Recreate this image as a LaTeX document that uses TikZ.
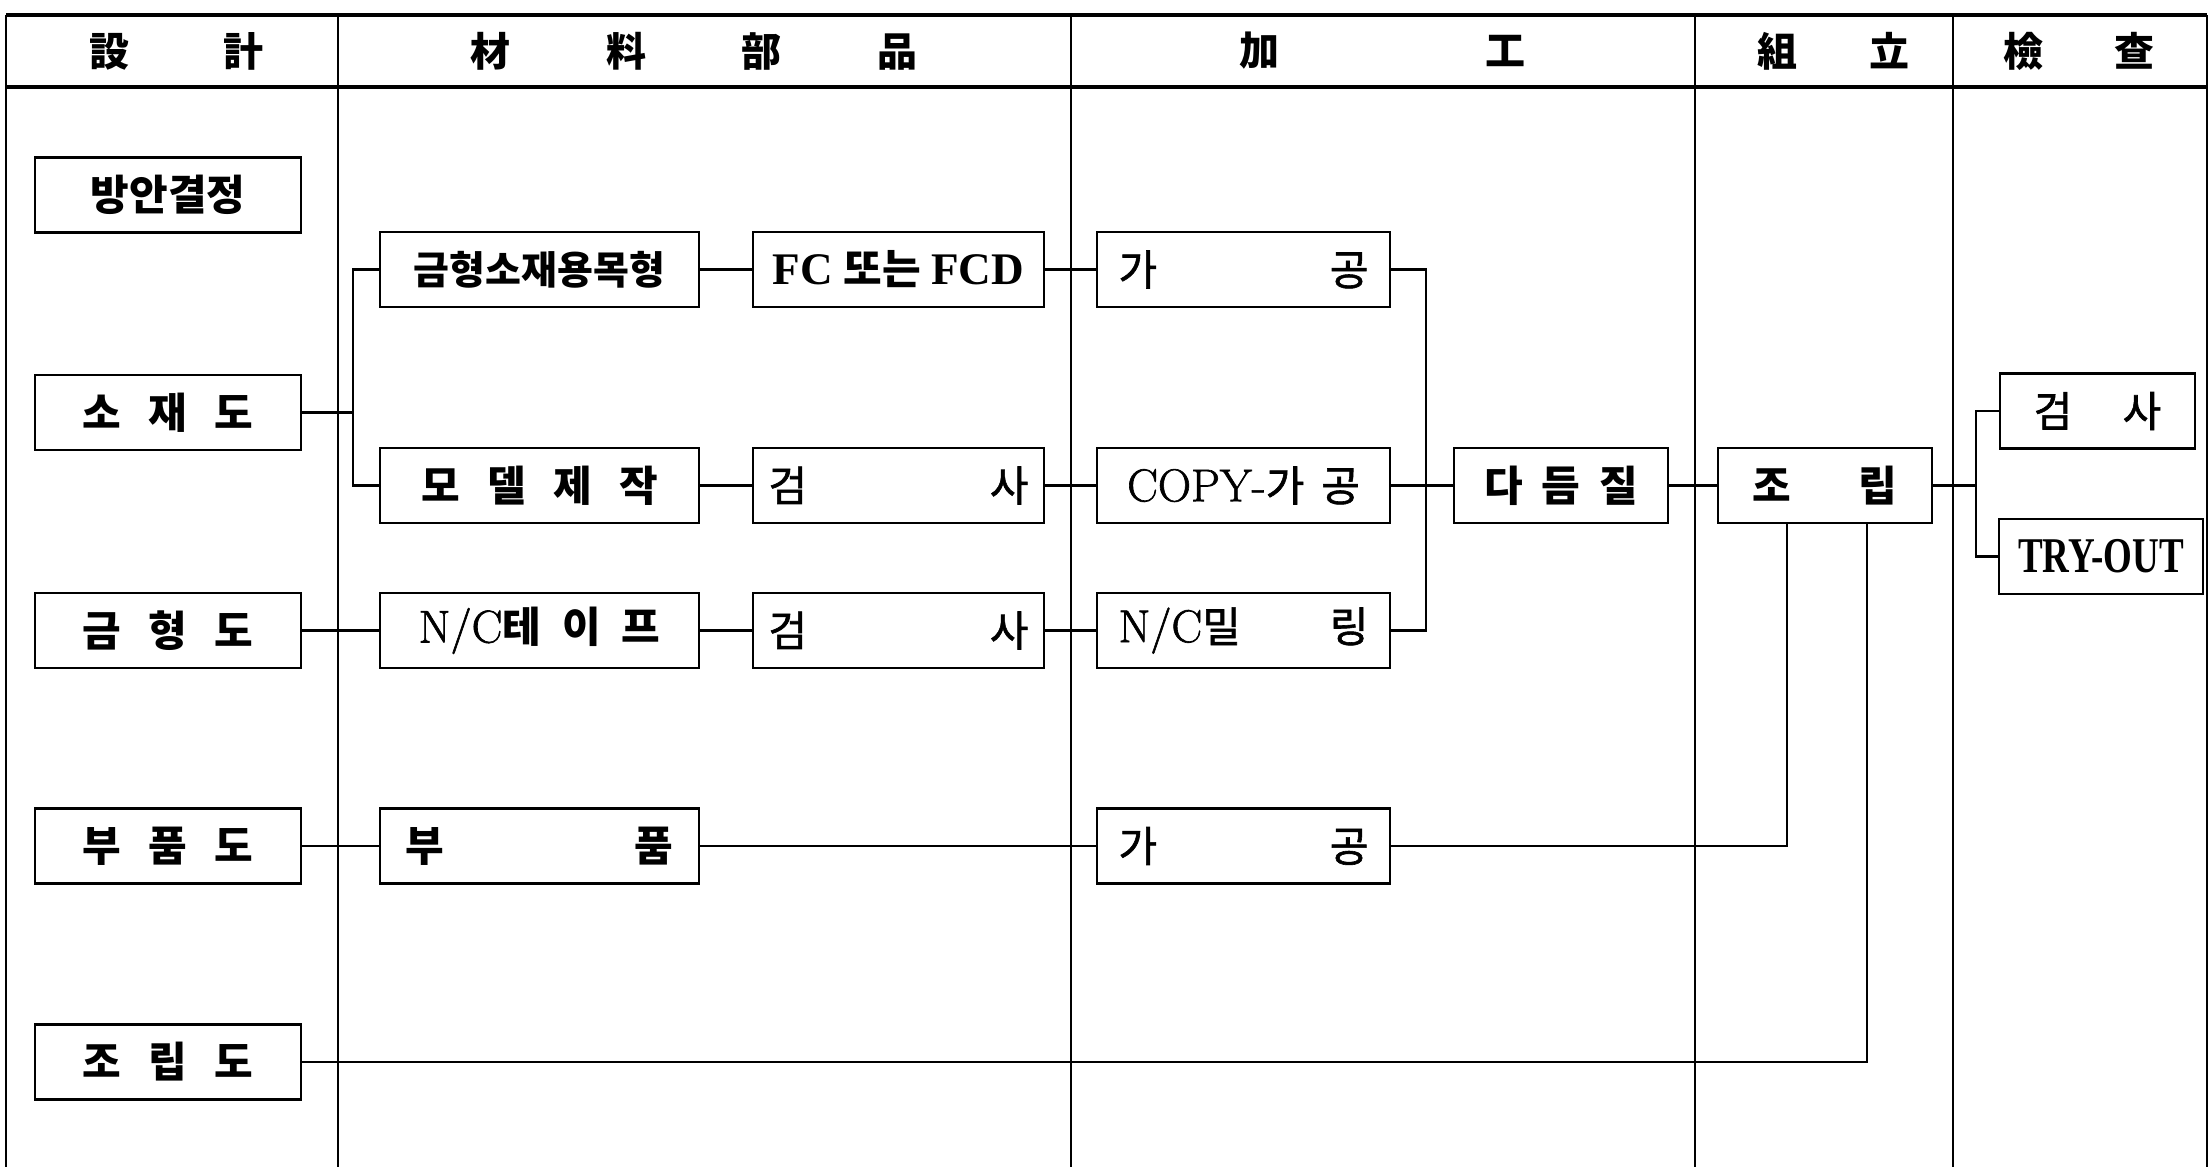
\documentclass[tikz,border=0pt]{standalone}
\usepackage{fontspec}
\usepackage{graphicx}
\newfontfamily\kr{Noto Sans CJK KR}
\newfontfamily\krm{Noto Sans CJK KR}[BoldFont={Noto Sans CJK KR}, BoldFeatures={FakeBold=1.4}]
\newfontfamily\lmf{Latin Modern Roman}[BoldFont={Latin Modern Roman}, BoldFeatures={FakeBold=1.4}]
\newfontfamily\lsb{Liberation Serif}
\newcommand\lat[1]{{\lmf\bfseries\fontsize{23pt}{25pt}\selectfont #1}}
\newcommand\latb[1]{{\lsb\bfseries\fontsize{22.6pt}{25pt}\selectfont #1}}
\newcommand\kgap{\hspace{0.65em}}
\begin{document}
\begin{tikzpicture}[x=0.5pt,y=-0.5pt,
  box/.style={draw, line width=1.4pt, minimum height=37.5pt, inner sep=0pt,
    font=\fontsize{21pt}{24pt}\selectfont\kr\bfseries},
  boxr/.style={draw, line width=1.4pt, minimum height=37.5pt, inner sep=0pt,
    font=\fontsize{21pt}{24pt}\selectfont\krm\bfseries},
  hdr/.style={inner sep=0pt, font=\fontsize{20pt}{22pt}\selectfont\kr\bfseries},
  conn/.style={line width=1.2pt},
  frameline/.style={line width=1.1pt},
  headline/.style={line width=2pt}]
\useasboundingbox (0,0) rectangle (2210,1167);

% frame
\draw[headline] (6,15) -- (2207,15);
\draw[headline] (6,87) -- (2207,87);
\foreach \xx in {6,338,1071,1695,1953,2207}
  \draw[frameline] (\xx,15) -- (\xx,1167);

% headers
\node[hdr] (h1) at (176,51) {設\hspace{47pt}計};
\node[hdr] (h2) at (694,51) {材\hspace{47.7pt}料\hspace{47.7pt}部\hspace{47.7pt}品};
\node[hdr] (h3) at (1382,51) {加\hspace{103pt}工};
\node[hdr] (h4) at (1833,51) {組\hspace{36pt}立};
\node[hdr] (h5) at (2078.5,51) {檢\hspace{35.5pt}查};

% column A
\node[box, minimum width=133pt] (bangan) at (168,195) {방안결정};
\node[box, minimum width=133pt] (sojae) at (168,412.5) {소\kgap 재\kgap 도};
\node[box, minimum width=133pt] (geumdo) at (168,630.5) {금\kgap 형\kgap 도};
\node[box, minimum width=133pt] (bupumdo) at (168,846) {부\kgap 품\kgap 도};
\node[box, minimum width=133pt] (joripdo) at (168,1062) {조\kgap 립\kgap 도};

% column B
\node[box, minimum width=159.5pt] (mold) at (539.5,269.5) {\fontsize{19.5pt}{22pt}\selectfont 금형소재용목형};
\node[box, minimum width=159.5pt] (model) at (539.5,485.5) {모\kgap 델\kgap 제\kgap 작};
\node[box, minimum width=159.5pt] (nct) at (539.5,630.5) {\lat{N/C}테\hspace{0.5em}이\hspace{0.5em}프};
\node[box, minimum width=159.5pt] (bp) at (539.5,846) {\hbox to 134pt{부\hfill 품}};

\node[box, minimum width=145.5pt] (fcd) at (898.5,269.5) {\latb{FC}\hspace{0.25em}또는\hspace{0.25em}\latb{FCD}};
\node[boxr, minimum width=145.5pt] (gs1) at (898.5,485.5) {\hbox to 130pt{검\hfill 사}};
\node[boxr, minimum width=145.5pt] (gs2) at (898.5,630.5) {\hbox to 130pt{검\hfill 사}};

% column C
\node[boxr, minimum width=146.5pt] (gg1) at (1243.5,269.5) {\hbox to 125pt{가\hfill 공}};
\node[boxr, minimum width=146.5pt] (copy) at (1243.5,485.5) {\lat{COPY-}가\hspace{0.4em}공};
\node[boxr, minimum width=146.5pt] (ncm) at (1243.5,630.5) {\hbox to 125pt{\lat{N/C}밀\hfill 링}};
\node[boxr, minimum width=146.5pt] (gg2) at (1243.5,846) {\hbox to 125pt{가\hfill 공}};
\node[box, minimum width=107pt] (dadeum) at (1561,485.5) {다\hspace{0.45em}듬\hspace{0.45em}질};

% column D
\node[box, minimum width=107pt] (jorip) at (1825,485.5) {조\hspace{1.6em}립};

% column E
\node[boxr, minimum width=97.5pt] (gsE) at (2097.5,411) {검\hspace{1.2em}사};
\node[boxr, minimum width=102pt] (try) at (2101,556.5) {\scalebox{0.74}[1]{\latb{\fontsize{25pt}{27pt}\selectfont TRY-OUT}}};

% bracket coordinates
\coordinate (b1) at (353,0);
\coordinate (b2) at (1426,0);
\coordinate (b3) at (1976,0);
\coordinate (v1) at (1787,0);
\coordinate (v2) at (1867,0);

% connectors
\draw[conn] (sojae.east) -- (sojae.east -| b1);
\draw[conn] (mold.west) -- (mold.west -| b1) -- (model.west -| b1) -- (model.west);
\draw[conn] (mold.east) -- (fcd.west);
\draw[conn] (fcd.east) -- (gg1.west);
\draw[conn] (model.east) -- (gs1.west);
\draw[conn] (gs1.east) -- (copy.west);
\draw[conn] (geumdo.east) -- (nct.west);
\draw[conn] (nct.east) -- (gs2.west);
\draw[conn] (gs2.east) -- (ncm.west);
\draw[conn] (gg1.east) -- (gg1.east -| b2) -- (ncm.east -| b2) -- (ncm.east);
\draw[conn] (copy.east) -- (dadeum.west);
\draw[conn] (dadeum.east) -- (jorip.west);
\draw[conn] (jorip.east) -- (jorip.east -| b3);
\draw[conn] (gsE.west) -- (gsE.west -| b3) -- (try.west -| b3) -- (try.west);
\draw[conn] (bupumdo.east) -- (bp.west);
\draw[conn] (bp.east) -- (gg2.west);
\draw[conn] (gg2.east) -- (gg2.east -| v1) -- (jorip.south -| v1);
\draw[conn] (joripdo.east) -- (joripdo.east -| v2) -- (jorip.south -| v2);
\end{tikzpicture}
\end{document}
